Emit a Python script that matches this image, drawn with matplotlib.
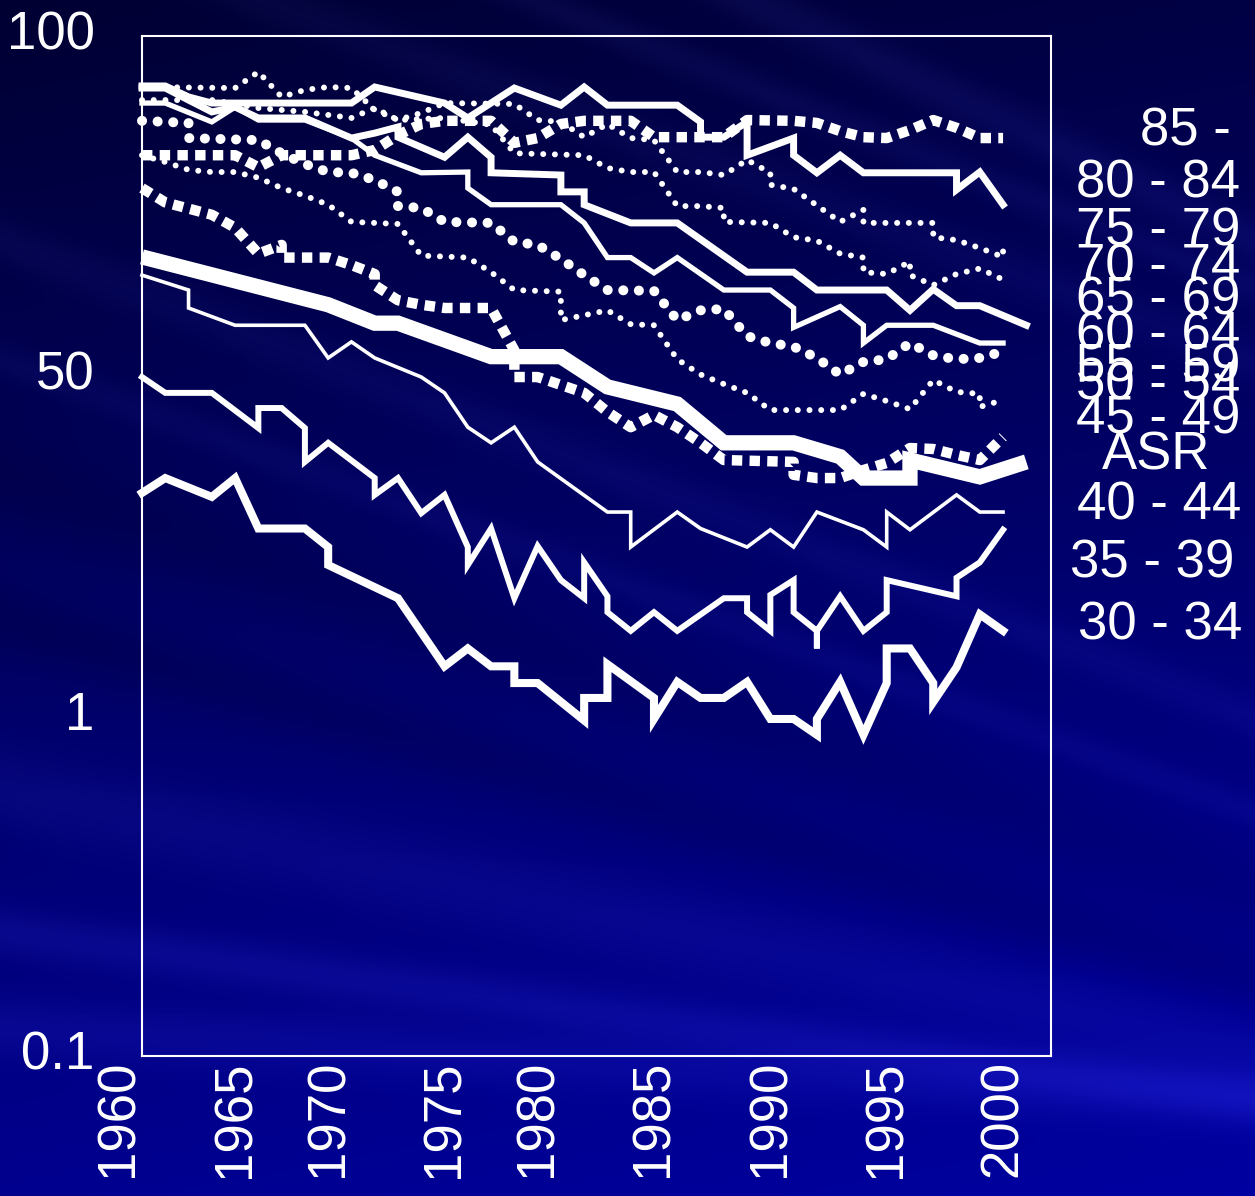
import numpy as np
import matplotlib
matplotlib.use("Agg")
import matplotlib.pyplot as plt
from matplotlib.transforms import blended_transform_factory, ScaledTranslation

plt.rcParams['font.family'] = ['Liberation Sans', 'DejaVu Sans']

# category positions: 1960 sits at 0, 2000 at 38 (1966-69 and 1976-79 share fewer slots)
tick_pos = [0, 5, 9, 14, 18, 23, 28, 33, 38]
tick_years = ['1960', '1965', '1970', '1975', '1980', '1985', '1990', '1995', '2000']

# rates per 100,000, by age group
x_85 = [1, 5, 6, 7, 10, 11, 12, 13, 14, 16, 17, 18, 19, 20, 22, 23, 26, 27, 29, 30, 31, 32, 33, 34, 35, 36, 37, 38]
y_85 = [44.6, 44.6, 41.1, 44.6, 44.6, 46.2, 51.1, 55.1, 56.3, 56.3, 48.5, 50.1, 55.1, 56.3, 56.3, 50.4, 50.4,
        56.6, 56.3, 55.5, 52.5, 50.4, 50.1, 52.9, 56.6, 53.7, 50.1, 50.1]

x_80 = [1, 2, 3, 4, 10, 11, 14, 15, 17, 19, 20, 21, 24, 25, 25, 26, 27, 27, 29, 29, 30, 31, 32, 36, 36, 37, 38]
y_80 = [71.3, 71.3, 66.2, 63.5, 63.5, 70.8, 63.5, 57.4, 70.3, 62.6, 70.8, 62.6, 62.6, 55.9, 50.4, 50.4, 55.9,
        44.6, 50.1, 44.6, 39.6, 44.6, 39.6, 39.6, 35.3, 39.8, 31.9]

x_75 = [1, 5, 6, 7, 8, 9, 10, 11, 12, 13, 14, 17, 18, 19, 20, 21, 22, 23, 24, 25, 26, 27, 28, 28, 29, 31, 32,
        32, 35, 35, 36, 37, 38, 38]
y_75 = [70.8, 70.3, 78.4, 66.2, 69.4, 70.8, 70.3, 60.6, 56.6, 59.4, 63.5, 63.1, 56.6, 55.9, 50.4, 55.1, 50.1,
        49.4, 39.8, 39.8, 39.0, 43.2, 39.6, 36.5, 35.5, 28.4, 30.8, 28.2, 28.2, 25.6, 25.1, 23.8, 22.4, 23.6]

x_70 = [1, 4, 6, 8, 10, 11, 12, 14, 16, 17, 20, 21, 22, 23, 24, 25, 26, 26, 28, 29, 30, 31, 32, 32, 33, 34,
        34, 35, 36, 37, 38]
y_70 = [64.8, 64.8, 61.4, 59.8, 57.4, 61.4, 56.6, 57.4, 54.8, 45.2, 44.6, 40.9, 39.8, 39.8, 31.6, 31.6, 31.2,
        28.4, 28.2, 25.6, 25.0, 22.9, 22.3, 20.2, 19.95, 21.7, 19.8, 18.5, 19.95, 20.7, 19.2]

x_65 = [1, 2, 3, 4, 5, 6, 8, 10, 11, 12, 12, 14, 15, 16, 16, 19, 19, 20, 20, 22, 24, 27, 29, 30, 33, 34, 35,
        36, 37, 39]
y_65 = [70.3, 70.3, 64.8, 59.8, 61.8, 57.4, 57.4, 50.1, 51.8, 54.0, 50.4, 44.0, 50.4, 44.0, 39.6, 39.0, 34.8,
        34.8, 31.9, 28.2, 28.2, 20.2, 20.2, 17.9, 17.9, 15.6, 18.0, 16.1, 16.1, 14.1]

x_60 = [1, 2, 4, 5, 6, 8, 10, 11, 13, 15, 15, 16, 19, 20, 21, 22, 23, 24, 26, 28, 29, 29, 31, 32, 32, 33, 35,
        37, 38]
y_60 = [63.5, 63.5, 55.9, 61.8, 56.6, 56.6, 50.1, 44.6, 39.6, 39.8, 35.7, 31.9, 31.9, 28.2, 22.3, 22.3, 20.1,
        22.3, 17.9, 17.9, 15.85, 13.9, 16.0, 14.1, 12.5, 14.1, 14.1, 12.5, 12.5]

x_55 = [1, 3, 3, 6, 7, 8, 9, 10, 11, 12, 12, 13, 14, 16, 17, 18, 19, 20, 21, 23, 24, 25, 26, 27, 28, 29, 30,
        31, 32, 33, 34, 35, 36, 37, 38]
y_55 = [56.3, 55.5, 50.1, 49.4, 45.2, 42.0, 39.8, 39.6, 37.7, 34.8, 31.6, 31.2, 28.4, 28.2, 24.8, 24.3, 22.1,
        19.8, 17.9, 17.8, 14.6, 15.6, 15.75, 13.1, 12.5, 12.2, 11.3, 10.1, 11.0, 11.2, 12.5, 11.5, 11.2, 11.3, 11.8]

x_50 = [1, 2, 3, 4, 5, 6, 7, 8, 9, 10, 11, 12, 13, 15, 16, 17, 19, 19, 21, 22, 23, 24, 25, 26, 27, 28, 31, 32,
        33, 34, 35, 36, 37, 37, 38]
y_50 = [44.6, 42.6, 40.4, 39.8, 39.8, 38.3, 35.7, 33.9, 31.9, 28.4, 28.2, 28.0, 22.6, 22.3, 20.2, 17.9, 17.7,
        14.6, 15.6, 14.2, 14.1, 11.2, 10.1, 9.47, 8.92, 7.94, 7.94, 8.86, 8.44, 7.99, 9.73, 8.98, 8.86, 8.11, 8.50]

x_45 = [1, 2, 4, 5, 6, 7, 7, 9, 10, 11, 11, 12, 13, 14, 16, 17, 17, 18, 20, 21, 22, 23, 24, 25, 26, 29, 29,
        30, 31, 32, 33, 34, 35, 36, 37, 38]
y_45 = [35.7, 32.4, 29.8, 27.3, 22.9, 24.3, 22.3, 22.3, 21.2, 19.95, 18.5, 16.7, 16.2, 15.85, 15.85, 11.9,
        9.93, 9.93, 8.92, 7.84, 7.07, 7.68, 7.07, 6.36, 5.66, 5.59, 5.12, 5.01, 5.01, 5.29, 5.55, 6.14, 6.10,
        5.86, 5.66, 6.62]

x_asr = [1, 9, 11, 12, 16, 19, 21, 24, 26, 29, 31, 32, 34, 34, 37, 39]
y_asr = [22.4, 16.2, 14.3, 14.3, 11.4, 11.4, 9.29, 8.27, 6.36, 6.36, 5.79, 5.01, 5.01, 5.66, 5.05, 5.59]

x_40 = [1, 3, 3, 5, 8, 9, 10, 11, 13, 14, 15, 16, 17, 18, 21, 22, 22, 24, 25, 27, 28, 29, 30, 32, 33, 33, 34,
        36, 37, 38]
y_40 = [19.8, 17.9, 15.85, 14.1, 14.1, 11.3, 12.6, 11.3, 9.93, 8.92, 7.07, 6.36, 7.07, 5.59, 3.98, 3.98, 3.14,
        3.98, 3.56, 3.14, 3.53, 3.14, 3.98, 3.53, 3.14, 3.98, 3.53, 4.47, 3.98, 3.98]

x_35 = [1, 2, 4, 6, 6, 7, 8, 8, 9, 11, 11, 12, 13, 14, 15, 15, 16, 17, 18, 19, 20, 20, 21, 21, 22, 23, 24, 26,
        27, 27, 28, 28, 29, 29, 30, 30, 30, 31, 32, 33, 33, 36, 36, 37, 38]
y_35 = [9.93, 8.92, 8.92, 7.03, 8.05, 8.05, 7.03, 5.59, 6.36, 5.01, 4.47, 5.01, 3.95, 4.47, 3.14, 2.78, 3.56,
        2.22, 3.16, 2.51, 2.22, 2.83, 2.25, 2.02, 1.78, 2.02, 1.78, 2.22, 2.22, 2.02, 1.78, 2.27, 2.51, 2.02,
        1.78, 1.58, 1.78, 2.25, 1.78, 2.02, 2.51, 2.25, 2.55, 2.83, 3.53]

x_30 = [1, 2, 4, 5, 6, 8, 9, 9, 12, 14, 15, 16, 17, 17, 18, 20, 20, 21, 21, 23, 23, 24, 25, 26, 27, 28, 29,
        30, 30, 31, 32, 33, 33, 34, 35, 35, 36, 37, 38]
y_30 = [4.53, 5.01, 4.41, 5.01, 3.56, 3.56, 3.14, 2.78, 2.22, 1.40, 1.58, 1.40, 1.40, 1.25, 1.25, 0.97, 1.13,
        1.13, 1.42, 1.13, 0.98, 1.26, 1.13, 1.13, 1.26, 0.98, 0.98, 0.88, 0.98, 1.26, 0.88, 1.25, 1.58, 1.58,
        1.25, 1.10, 1.39, 1.99, 1.78]

group_labels = ['85 -', '80 - 84', '75 - 79', '70 - 74', '65 - 69', '60 - 64', '55 - 59', '50 - 54',
                '45 - 49', 'ASR', '40 - 44', '35 - 39', '30 - 34']

W, H = 1255, 1196
fig = plt.figure(figsize=(W / 100, H / 100), dpi=100)

# navy backdrop, darker at the top, with faint diagonal streaks
bg = fig.add_axes([0, 0, 1, 1], zorder=0)
bg.axis('off')
yy, xx = np.mgrid[0:1:400j, 0:1:420j]
blue = 0.20 + 0.36 * yy + 0.07 * xx
light = np.zeros_like(yy)
for c, s, w, a in [(0.66, 0.22, 0.035, 0.05), (0.78, 0.14, 0.02, 0.07), (0.86, 0.06, 0.025, 0.06),
                   (0.52, 0.30, 0.03, -0.05), (0.40, 0.35, 0.04, -0.04),
                   (-0.30, 0.50, 0.02, 0.06), (-0.18, 0.42, 0.015, 0.05), (-0.08, 0.38, 0.02, 0.04),
                   (0.20, 0.40, 0.02, 0.04), (0.30, 0.38, 0.015, 0.04)]:
    light += a * np.exp(-((yy - (c + s * xx)) / w) ** 2)
img = np.dstack([np.clip(light * 0.5, 0, 1), np.clip(light * 0.5, 0, 1), np.clip(blue + light, 0, 1)])
bg.imshow(img, aspect='auto', extent=[0, 1, 0, 1], origin='upper')

ax = fig.add_axes([142 / W, 1 - 1056 / H, (1051 - 142) / W, (1056 - 36) / H], zorder=1)
ax.set_facecolor('none')
ax.set_yscale('log')
ax.set_ylim(0.1, 100)
ax.set_xlim(1, 40.06)
for sp in ax.spines.values():
    sp.set_color('white')
    sp.set_linewidth(1.5)

ax.set_yticks([100, 10, 1, 0.1])
ax.set_yticklabels(['100', '50', '1', '0.1'])
ax.yaxis.set_minor_locator(matplotlib.ticker.NullLocator())
ax.tick_params(axis='y', length=0, pad=34, labelsize=38, labelcolor='white')
lift = ScaledTranslation(0, 0.06, fig.dpi_scale_trans)
for lab in ax.get_yticklabels():
    lab.set_transform(lab.get_transform() + lift)
ax.set_xticks([])

trans = blended_transform_factory(ax.transData, ax.transAxes)
for p, lab in zip(tick_pos, tick_years):
    ax.text(p, -0.004, lab, rotation=90, ha='center', va='top', color='white',
            fontsize=38, transform=trans, clip_on=False)

small_dot = dict(lw=4.3, linestyle=(0, (0.01, 1.95)), dash_capstyle='round')
big_dot = dict(lw=7.2, linestyle=(0, (0.01, 1.55)), dash_capstyle='round')
square = dict(lw=7.5, linestyle=(0, (1.0, 0.7)), dash_capstyle='butt')

series = [
    (x_85, y_85, square),
    (x_80, y_80, dict(lw=5.0)),
    (x_75, y_75, small_dot),
    (x_70, y_70, small_dot),
    (x_65, y_65, dict(lw=5.0)),
    (x_60, y_60, dict(lw=3.8)),
    (x_55, y_55, big_dot),
    (x_50, y_50, small_dot),
    (x_45, y_45, square),
    (x_40, y_40, dict(lw=2.6)),
    (x_35, y_35, dict(lw=4.3)),
    (x_30, y_30, dict(lw=5.8)),
    (x_asr, y_asr, dict(lw=11, solid_capstyle='butt')),
]
for xs, ys, style in series:
    kw = dict(color='white', solid_joinstyle='miter', clip_on=False)
    kw.update(style)
    ax.plot(xs, ys, **kw)

# group names down the right-hand side
label_y = [131, 183, 232, 268, 300, 335, 368, 385, 420, 455, 505, 563, 625]
label_x = [1140, 1076, 1076, 1076, 1076, 1076, 1076, 1076, 1076, 1102, 1077, 1070, 1078]
for lab, lx, ly in zip(group_labels, label_x, label_y):
    fig.text(lx / W, 1 - ly / H, lab, ha='left', va='center', color='white', fontsize=38)

fig.savefig('out.png', dpi=100)
